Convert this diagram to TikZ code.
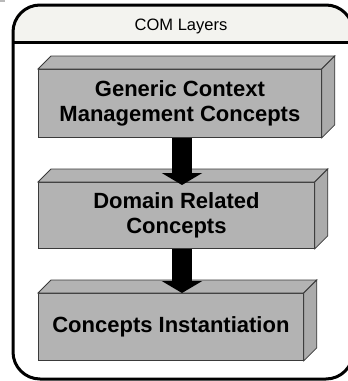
\documentclass[tikz,border=0pt]{standalone}
\usepackage{fontspec}
\setmainfont{Liberation Sans}
\usetikzlibrary{arrows.meta}
\definecolor{boxgray}{HTML}{B3B3B3}
\definecolor{sidegray}{HTML}{ABABAB}
\definecolor{headfill}{HTML}{F3F3EF}
\definecolor{edgegray}{HTML}{3A3A3A}
\begin{document}
\begin{tikzpicture}[x=1pt,y=-1pt,
  front/.style={draw=edgegray, fill=boxgray, line width=0.8pt, inner sep=0pt,
    font=\fontsize{22}{24.5}\selectfont\bfseries, align=center, anchor=north west},
  face/.style={draw=edgegray, fill=boxgray, line width=0.8pt, line join=miter},
  sface/.style={face, fill=sidegray},
  bigarrow/.style={line width=20pt, -{Triangle[width=40pt,length=12pt]}},
  frame/.style={line width=3pt, rounded corners=27pt}]
\useasboundingbox (0,0) rectangle (348,381);
\fill[gray!55] (0,0) rectangle (5,2);
% outer frame with header
\begin{scope}
  \clip (0,0) rectangle (348,381);
  \begin{scope}
    \clip[rounded corners=27pt] (13,5) rectangle (353,379);
    \fill[headfill] (13,5) rectangle (353,42);
  \end{scope}
  \draw[frame] (13,5) rectangle (353,379);
  \draw[line width=3pt] (13,42) -- (353,42);
\end{scope}
\node[font=\fontsize{16.5}{18}\selectfont, anchor=base] (title) at (181,30) {COM Layers};
% boxes
\node[front, minimum width=283pt, minimum height=68pt] (b1) at (38,69)
  {Generic Context\\Management Concepts};
\draw[face] (b1.north west) -- ++(13,-13) -- ([shift={(13,-13)}]b1.north east) -- (b1.north east) -- cycle;
\draw[sface] (b1.north east) -- ++(13,-13) -- ([shift={(13,-13)}]b1.south east) -- (b1.south east) -- cycle;

\node[front, minimum width=276pt, minimum height=66pt] (b2) at (38,182)
  {Domain Related\\Concepts};
\draw[face] (b2.north west) -- ++(13,-13) -- ([shift={(13,-13)}]b2.north east) -- (b2.north east) -- cycle;
\draw[sface] (b2.north east) -- ++(13,-13) -- ([shift={(13,-13)}]b2.south east) -- (b2.south east) -- cycle;

\node[front, minimum width=265pt, minimum height=67pt] (b3) at (38,293)
  {Concepts Instantiation};
\draw[face] (b3.north west) -- ++(13,-13) -- ([shift={(13,-13)}]b3.north east) -- (b3.north east) -- cycle;
\draw[sface] (b3.north east) -- ++(13,-13) -- ([shift={(13,-13)}]b3.south east) -- (b3.south east) -- cycle;
% arrows
\coordinate (ax) at (182,0);
\draw[bigarrow] (b1.south -| ax) -- ([yshift=-3pt]b2.north -| ax);
\draw[bigarrow] (b2.south -| ax) -- (b3.north -| ax);
\end{tikzpicture}
\end{document}
